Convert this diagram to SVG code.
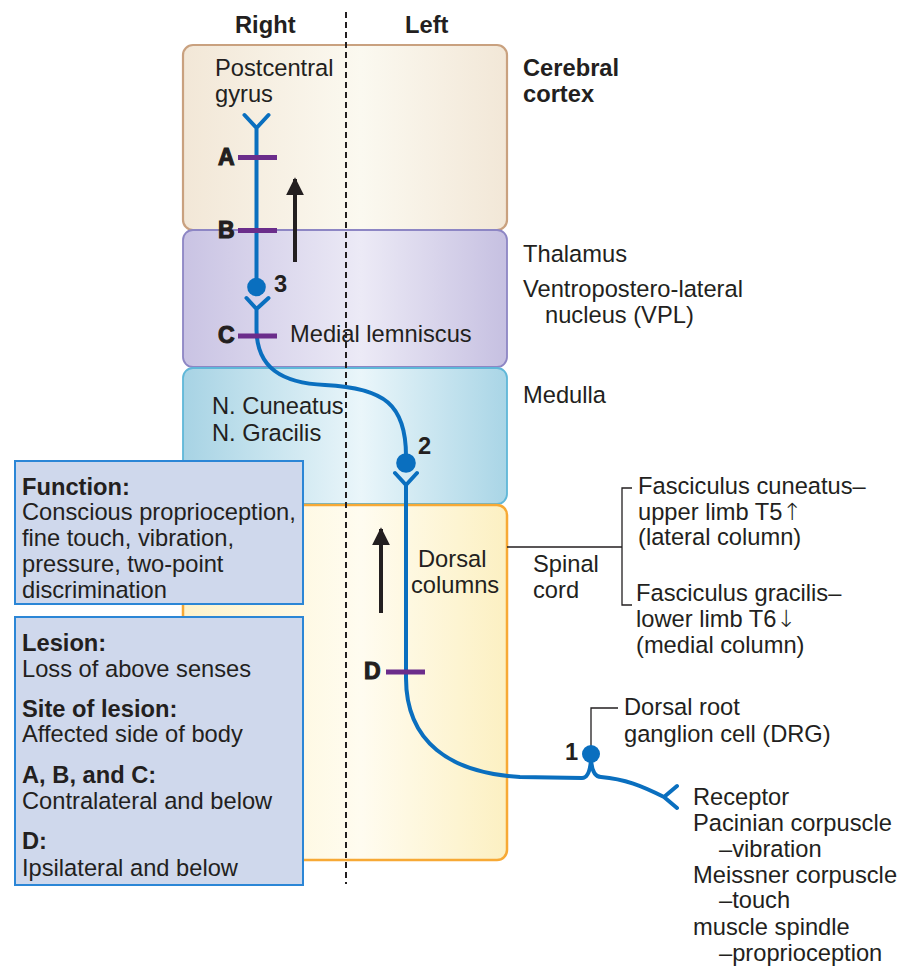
<svg xmlns="http://www.w3.org/2000/svg" width="913" height="966" viewBox="0 0 913 966">
<defs>
<linearGradient id="gCortex" x1="0" x2="1" y1="0" y2="0">
<stop offset="0" stop-color="#f2e7d7"/><stop offset="0.55" stop-color="#fbf9f0"/><stop offset="1" stop-color="#f2e7d7"/>
</linearGradient>
<linearGradient id="gThal" x1="0" x2="1" y1="0" y2="0">
<stop offset="0" stop-color="#c9c3e3"/><stop offset="0.55" stop-color="#eceaf6"/><stop offset="1" stop-color="#c6c0e1"/>
</linearGradient>
<linearGradient id="gMed" x1="0" x2="1" y1="0" y2="0">
<stop offset="0" stop-color="#a7d3e4"/><stop offset="0.55" stop-color="#eaf6fa"/><stop offset="1" stop-color="#a9d5e6"/>
</linearGradient>
<linearGradient id="gSpin" x1="0" x2="1" y1="0" y2="0">
<stop offset="0" stop-color="#fdf3cc"/><stop offset="0.55" stop-color="#fffcf0"/><stop offset="1" stop-color="#fcf0c2"/>
</linearGradient>
<marker id="ah" viewBox="0 0 10 10" refX="9" refY="5" markerWidth="4.5" markerHeight="4.5" orient="auto" markerUnits="strokeWidth">
<path d="M0,0 L10,5 L0,10 Z" fill="#231f20"/>
</marker>
</defs>
<style>
text{font-family:"Liberation Sans",Arial,sans-serif;fill:#231f20;font-size:23.7px}
.b{font-weight:bold}
.ar{font-family:"DejaVu Sans",sans-serif;font-weight:200;fill:#231f20}
.lt{font-family:"Liberation Sans",Arial,sans-serif;font-weight:900;font-size:23px;stroke:#231f20;stroke-width:1.1}
.neu{fill:none;stroke:#0a6fbf;stroke-width:4;stroke-linecap:round;stroke-linejoin:round}
.soma{fill:#0a6fbf}
.tick{stroke:#6b2d8b;stroke-width:5}
.arrow{stroke:#231f20;stroke-width:4;fill:none}
.thin{stroke:#231f20;stroke-width:1.3;fill:none}
.ibox{fill:#cfd8ec;stroke:#2b86d6;stroke-width:2}
</style>

<g id="cortex">
<rect x="183" y="45" width="324" height="185" rx="10" fill="url(#gCortex)" stroke="#c9a17f" stroke-width="2.2"/>
<text x="215" y="76">Postcentral</text>
<text x="215" y="102">gyrus</text>
</g>
<g id="thalamus">
<rect x="183" y="230" width="324" height="137" rx="10" fill="url(#gThal)" stroke="#8d86c4" stroke-width="1.8"/>
<text x="290" y="342">Medial lemniscus</text>
</g>
<g id="medulla">
<rect x="183" y="368" width="324" height="136" rx="10" fill="url(#gMed)" stroke="#5fb7d8" stroke-width="1.8"/>
<text x="212" y="414">N. Cuneatus</text>
<text x="212" y="441">N. Gracilis</text>
</g>
<g id="spinal-cord">
<rect x="183" y="505" width="324" height="355" rx="10" fill="url(#gSpin)" stroke="#f7a935" stroke-width="2.5"/>
<text x="418" y="567">Dorsal</text>
<text x="411" y="593">columns</text>
</g>

<g id="midline">
<line x1="346" y1="12" x2="346" y2="884" stroke="#231f20" stroke-width="2" stroke-dasharray="6 4"/>
<text class="b" x="235" y="33" font-size="21">Right</text>
<text class="b" x="405" y="33" font-size="21">Left</text>
</g>

<g id="connectors">
<path class="neu" d="M244.5,115 L256.5,128 L268.5,115 M256.5,128 V287"/>
<path class="neu" d="M246.5,298 L256.5,309 L268.5,298 M256.5,309 V330 C257,368 282,383 325,385 C385,388 406,405 406,456"/>
<path class="neu" d="M395,473 L406,485 L417,473 M406,485 V678 C406,742 450,773 520,777 L582,778 C587,778 590,772 591,760"/>
<path class="neu" d="M591,760 C592,772 595,777 601,777 C625,779 642,786 664,797 M677,786 L664,797 L677,808"/>
<line class="arrow" x1="295" y1="262" x2="295" y2="179" marker-end="url(#ah)"/>
<line class="arrow" x1="381" y1="613" x2="381" y2="529" marker-end="url(#ah)"/>
<path class="thin" d="M507,547 H622 M632,488 H622 V605 H632"/>
<path class="thin" d="M591,746 V708 H618"/>
</g>

<g id="somata">
<circle class="soma" cx="256.5" cy="287" r="9.3"/>
<circle class="soma" cx="406" cy="463" r="9.8"/>
<circle class="soma" cx="591" cy="754" r="9"/>
<text class="b" x="274" y="292" font-size="21">3</text>
<text class="b" x="418" y="454" font-size="21">2</text>
<text class="b" x="565" y="760" font-size="21">1</text>
</g>

<g id="lesion-sites">
<line class="tick" x1="238" y1="157.5" x2="277" y2="157.5"/>
<line class="tick" x1="238" y1="230.5" x2="277" y2="230.5"/>
<line class="tick" x1="238" y1="336" x2="277" y2="336"/>
<line class="tick" x1="386" y1="672" x2="425" y2="672"/>
<text class="lt" x="218" y="165">A</text>
<text class="lt" x="218" y="238">B</text>
<text class="lt" x="218" y="343">C</text>
<text class="lt" x="364" y="679">D</text>
</g>

<g id="right-labels">
<text class="b" x="523" y="76">Cerebral</text>
<text class="b" x="523" y="102">cortex</text>
<text x="523" y="262">Thalamus</text>
<text x="523" y="297">Ventropostero-lateral</text>
<text x="545" y="323">nucleus (VPL)</text>
<text x="523" y="403">Medulla</text>
<text x="533" y="572">Spinal</text>
<text x="533" y="598">cord</text>
<text x="638" y="494">Fasciculus cuneatus–</text>
<text x="638" y="520">upper limb T5<tspan class="ar">↑</tspan></text>
<text x="638" y="545">(lateral column)</text>
<text x="636" y="601">Fasciculus gracilis–</text>
<text x="636" y="627">lower limb T6<tspan class="ar">↓</tspan></text>
<text x="636" y="653">(medial column)</text>
<text x="624" y="715">Dorsal root</text>
<text x="624" y="742">ganglion cell (DRG)</text>
<text x="693" y="805">Receptor</text>
<text x="693" y="831">Pacinian corpuscle</text>
<text x="719" y="857">–vibration</text>
<text x="693" y="883">Meissner corpuscle</text>
<text x="719" y="908">–touch</text>
<text x="693" y="935">muscle spindle</text>
<text x="719" y="961">–proprioception</text>
</g>

<g id="function-box">
<rect class="ibox" x="15" y="461" width="288" height="143"/>
<text class="b" x="22" y="495">Function:</text>
<text x="22" y="520">Conscious proprioception,</text>
<text x="22" y="546">fine touch, vibration,</text>
<text x="22" y="572">pressure, two-point</text>
<text x="22" y="598">discrimination</text>
</g>

<g id="lesion-box">
<rect class="ibox" x="15" y="617" width="288" height="268"/>
<text class="b" x="22" y="651">Lesion:</text>
<text x="22" y="677">Loss of above senses</text>
<text class="b" x="22" y="717">Site of lesion:</text>
<text x="22" y="742">Affected side of body</text>
<text class="b" x="22" y="783">A, B, and C:</text>
<text x="22" y="809">Contralateral and below</text>
<text class="b" x="22" y="849">D:</text>
<text x="22" y="876">Ipsilateral and below</text>
</g>
</svg>
